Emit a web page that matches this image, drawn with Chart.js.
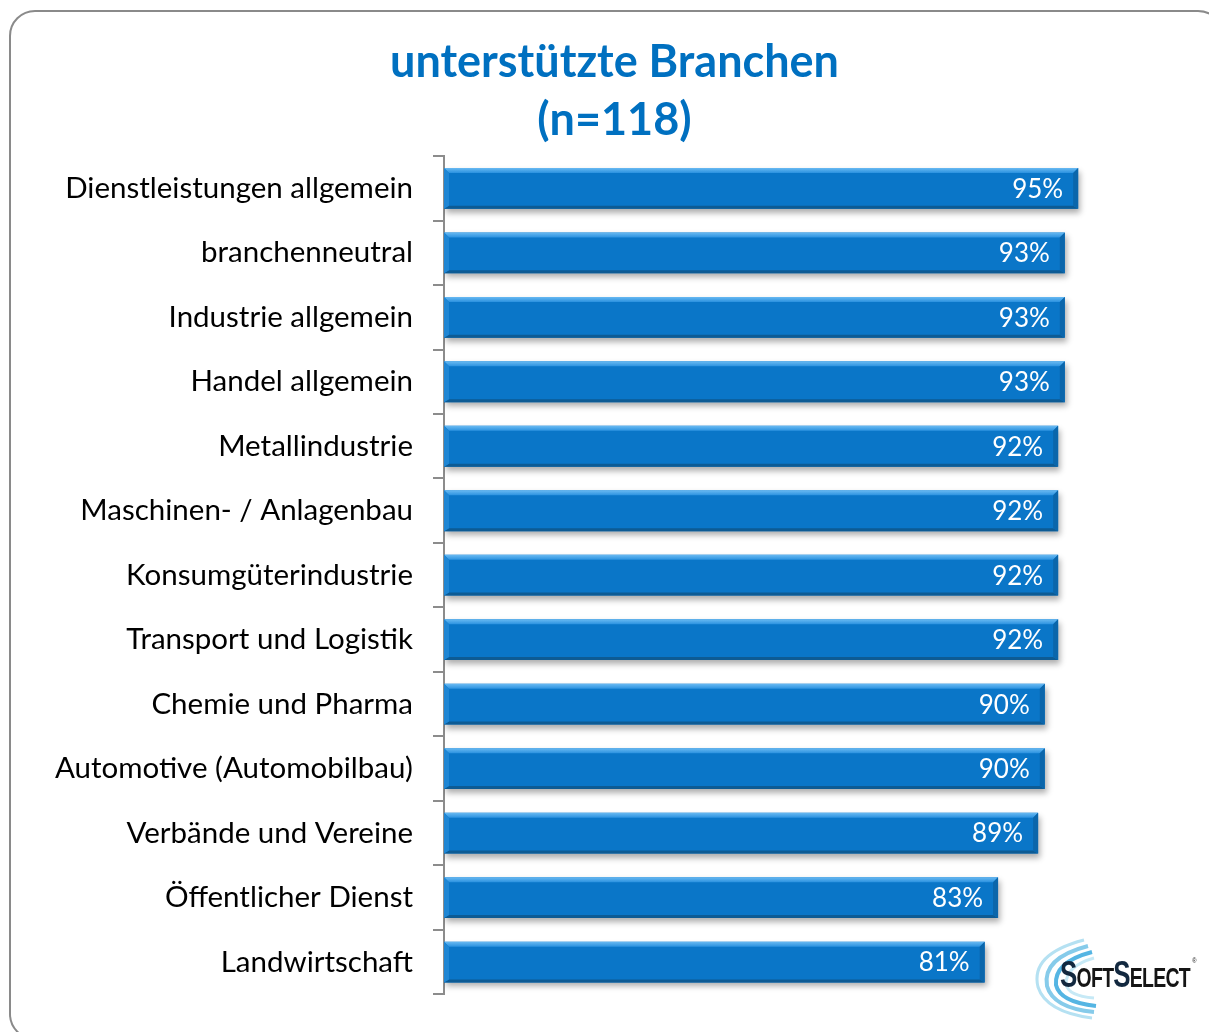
<!DOCTYPE html>
<html>
<head>
<meta charset="utf-8">
<script src="https://cdn.jsdelivr.net/npm/chart.js@4.4.1/dist/chart.umd.min.js"></script>
<style>
html, body { margin: 0; padding: 0; background: #fff; overflow: hidden; }
#wrap { position: relative; width: 1209px; height: 1032px; }
#frame { position: absolute; left: 9px; top: 10px; width: 1215px; height: 1030px; border: 2px solid #8a8a8a; border-radius: 26px; box-sizing: border-box; }
#chart { position: absolute; left: 0; top: 0; }
#logo { position: absolute; left: 1022px; top: 932px; width: 185px; height: 90px; }
#logo svg { position: absolute; left: 0; top: 0; }
#logoText { position: absolute; left: 38px; top: 22px; font-family: "Liberation Sans", sans-serif; font-weight: bold; font-size: 27px; color: #151515; letter-spacing: -1px; white-space: nowrap; transform: scaleX(0.72); transform-origin: 0 0; }
#logoText .big { font-size: 36px; color: #12283f; }
#logoText sup { font-size: 8px; font-weight: normal; vertical-align: 24px; margin-left: 3px; }
</style>
</head>
<body>
<div id="wrap">
  <div id="frame"></div>
  <canvas id="chart" width="1209" height="1032"></canvas>
  <div id="logo">
    <svg width="185" height="90" viewBox="0 0 185 90">
      <path d="M62 8 Q8 22 16 55 Q24 80 70 86" fill="none" stroke="#b5e1f2" stroke-width="3"/>
      <path d="M66 14 Q20 26 25 54 Q31 76 72 80" fill="none" stroke="#86cbea" stroke-width="4"/>
      <path d="M70 20 Q32 30 34 53 Q38 70 74 74" fill="none" stroke="#55b5e3" stroke-width="4"/>
      <path d="M72 26 Q44 34 44 52 Q46 64 72 66" fill="none" stroke="#c6e9f6" stroke-width="3"/>
    </svg>
    <div id="logoText"><span class="big">S</span>OFT<span class="big">S</span>ELECT<sup>®</sup></div>
  </div>
</div>
<script>
const categories = [
    "Dienstleistungen allgemein",
    "branchenneutral",
    "Industrie allgemein",
    "Handel allgemein",
    "Metallindustrie",
    "Maschinen- / Anlagenbau",
    "Konsumgüterindustrie",
    "Transport und Logistik",
    "Chemie und Pharma",
    "Automotive (Automobilbau)",
    "Verbände und Vereine",
    "Öffentlicher Dienst",
    "Landwirtschaft"
];
const shares = [95, 93, 93, 93, 92, 92, 92, 92, 90, 90, 89, 83, 81];
const chartTitle = ["unterstützte Branchen", "(n=118)"];

function poly(ctx, pts, fill) {
    ctx.beginPath();
    ctx.moveTo(pts[0][0], pts[0][1]);
    for (let i = 1; i < pts.length; i++) ctx.lineTo(pts[i][0], pts[i][1]);
    ctx.closePath();
    ctx.fillStyle = fill;
    ctx.fill();
}

// shadow under the bars, bevel on top, value labels inside
const barLook = {
    id: "barLook",
    beforeDatasetsDraw(chart) {
        const c = chart.ctx;
        c.save();
        c.shadowColor = "rgba(0,0,0,0.32)";
        c.shadowBlur = 6;
        c.shadowOffsetX = 2;
        c.shadowOffsetY = 4;
    },
    afterDatasetsDraw(chart) {
        const c = chart.ctx;
        c.restore();
        const meta = chart.getDatasetMeta(0);
        meta.data.forEach((bar, i) => {
            const p = bar.getProps(["x", "y", "base", "height"], true);
            const t = p.y - p.height / 2, b = p.y + p.height / 2;
            const l = p.base, r = p.x, e = 5;
            let g = c.createLinearGradient(0, t, 0, t + e);
            g.addColorStop(0, "#6abaf2");
            g.addColorStop(1, "#2b92e0");
            poly(c, [[l, t], [r, t], [r - e, t + e], [l + e, t + e]], g);
            poly(c, [[l, b], [r, b], [r - e, b - 3], [l + e, b - 3]], "#0d5b94");
            poly(c, [[r, t], [r, b], [r - e, b - 3], [r - e, t + e]], "#0b66ab");
            poly(c, [[l, t], [l, b], [l + e, b - 3], [l + e, t + e]], "#1f86d4");
            c.save();
            c.font = "26px Lato";
            c.fillStyle = "#ffffff";
            c.textAlign = "right";
            c.textBaseline = "middle";
            c.fillText(shares[i] + "%", r - 15, p.y + 1);
            c.restore();
        });
    }
};

new Chart(document.getElementById("chart"), {
    type: "bar",
    data: {
        labels: categories,
        datasets: [{
            data: shares,
            backgroundColor: "#0a76c8",
            borderWidth: 0,
            barPercentage: 0.633,
            categoryPercentage: 1
        }]
    },
    options: {
        indexAxis: "y",
        responsive: false,
        animation: false,
        layout: { padding: { left: 20, right: 0, top: 0, bottom: 34 } },
        plugins: {
            legend: { display: false },
            tooltip: { enabled: false },
            title: {
                display: true,
                text: chartTitle,
                color: "#0070c0",
                font: { family: "Lato", size: 45, weight: "bold", lineHeight: 1.29 },
                padding: { top: 33, bottom: 7 }
            }
        },
        scales: {
            x: { display: false, min: 0, max: 114.6 },
            y: {
                grid: { display: true, drawOnChartArea: false, drawTicks: true, tickLength: 11, color: "#8c8c8c", lineWidth: 2, offset: true },
                border: { display: true, color: "#8c8c8c", width: 2 },
                ticks: { color: "#000000", font: { family: "Lato", size: 29.5 }, padding: 20 },
                afterFit(scale) { scale.width = 424; }
            }
        }
    },
    plugins: [barLook]
});
</script>
</body>
</html>
